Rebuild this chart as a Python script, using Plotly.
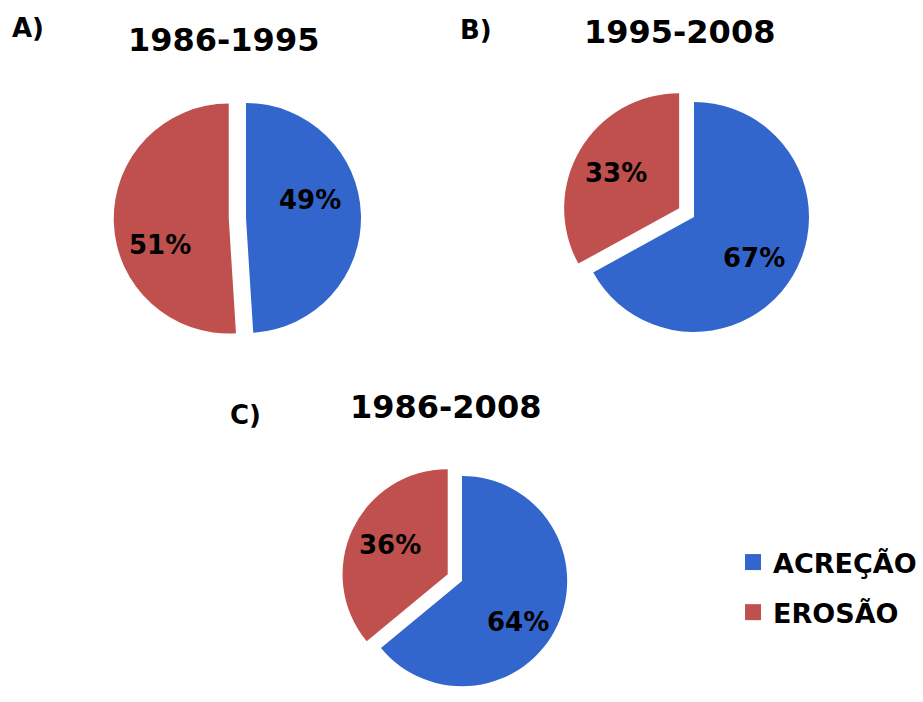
import plotly.graph_objects as go

# Shoreline change shares per period
categories = ["ACREÇÃO", "EROSÃO"]
periods = ["1986-1995", "1995-2008", "1986-2008"]
panel_tags = ["A)", "B)", "C)"]
share_1986_1995 = [49, 51]
share_1995_2008 = [67, 33]
share_1986_2008 = [64, 36]
shares = [share_1986_1995, share_1995_2008, share_1986_2008]

colors = ["#3366CC", "#C0504D"]
FONT = "DejaVu Sans"
W, H = 923, 702
PULL = 0.15

# pie centre (px from top-left) and radius for each panel
pie_geom = [(246, 218, 115), (694, 217, 115), (462, 582, 106)]
# panel tag and title positions (px)
tag_pos = [(28, 28), (476, 30), (245, 415)]
title_pos = [(223, 40), (679, 32), (445, 407)]
# percentage label positions (px), one pair per pie
label_pos = [
    [(310, 200), (160, 245)],
    [(754, 258), (616, 173)],
    [(518, 622), (390, 545)],
]


def clamp(v):
    return min(1.0, max(0.0, v))


fig = go.Figure()

for vals, (cx, cy, r) in zip(shares, pie_geom):
    half = r * (1 + PULL)
    fig.add_trace(go.Pie(
        labels=categories,
        values=vals,
        sort=False,
        direction="clockwise",
        rotation=0,
        pull=[0, PULL],
        marker=dict(colors=colors, line=dict(width=0)),
        textinfo="none",
        hoverinfo="label+percent",
        showlegend=False,
        domain=dict(
            x=[clamp((cx - half) / W), clamp((cx + half) / W)],
            y=[clamp((H - cy - half) / H), clamp((H - cy + half) / H)],
        ),
    ))

# legend entries
for i, (name, col) in enumerate(zip(categories, colors)):
    fig.add_trace(go.Scatter(
        x=[None], y=[None], mode="markers", name=name,
        marker=dict(symbol="square", size=16, color=col),
        legendgroup=f"g{i}", showlegend=True,
    ))

annotations = []
for tag, (tx, ty) in zip(panel_tags, tag_pos):
    annotations.append(dict(
        text=tag, x=tx / W, y=1 - ty / H, xref="paper", yref="paper",
        xanchor="center", yanchor="middle", showarrow=False,
        font=dict(family=FONT, size=26, color="black", weight="bold"),
    ))
for title, (tx, ty) in zip(periods, title_pos):
    annotations.append(dict(
        text=title, x=tx / W, y=1 - ty / H, xref="paper", yref="paper",
        xanchor="center", yanchor="middle", showarrow=False,
        font=dict(family=FONT, size=32, color="black", weight="bold"),
    ))
# slice percentages, computed from the shares
for vals, positions in zip(shares, label_pos):
    total = sum(vals)
    for v, (lx, ly) in zip(vals, positions):
        annotations.append(dict(
            text=f"{round(100 * v / total)}%", x=lx / W, y=1 - ly / H,
            xref="paper", yref="paper", xanchor="center", yanchor="middle",
            showarrow=False,
            font=dict(family=FONT, size=26, color="black", weight="bold"),
        ))

fig.update_layout(
    width=W, height=H,
    margin=dict(l=0, r=0, t=0, b=0, autoexpand=False),
    paper_bgcolor="white", plot_bgcolor="white",
    xaxis=dict(visible=False), yaxis=dict(visible=False),
    annotations=annotations,
    legend=dict(
        x=733 / W, y=1 - 538 / H, xanchor="left", yanchor="top",
        font=dict(family=FONT, size=27, color="black", weight="bold"),
        tracegroupgap=12, bgcolor="rgba(0,0,0,0)",
    ),
    showlegend=True,
)

fig.write_html("out.html")
